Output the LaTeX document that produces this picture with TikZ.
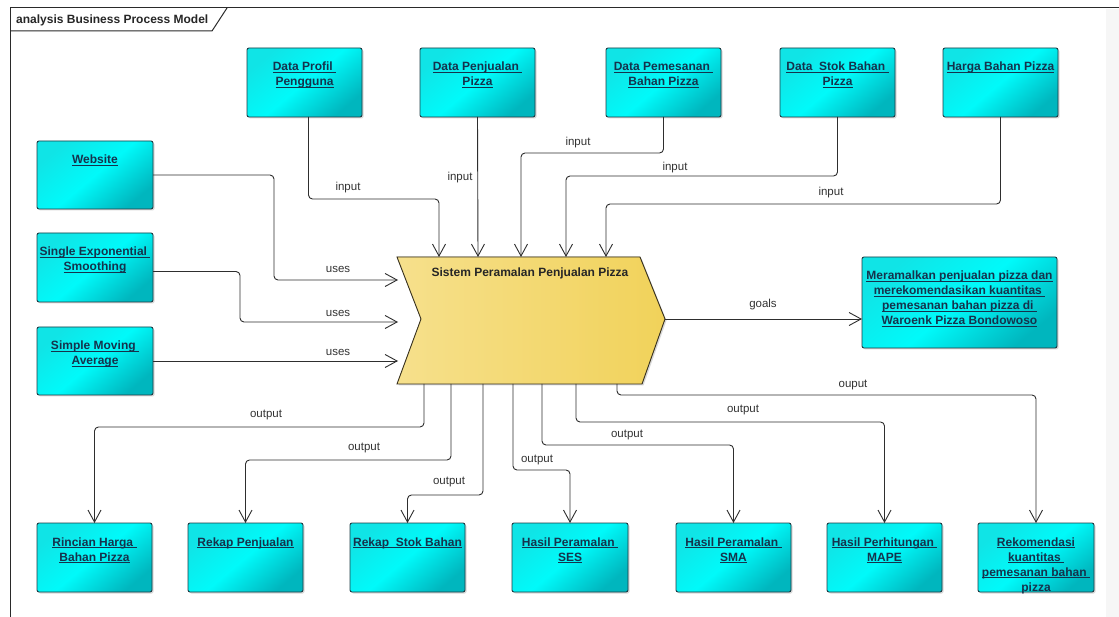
\documentclass[tikz,border=0pt]{standalone}
\usepackage{fontspec}
\setmainfont{Liberation Sans}
\usetikzlibrary{arrows.meta,shadows}

\definecolor{boxtop}{HTML}{10E4E6}
\definecolor{boxmid}{HTML}{00FAFA}
\definecolor{boxbot}{HTML}{00B6BE}
\definecolor{boxline}{HTML}{1E3C44}
\definecolor{boxtext}{HTML}{15324C}
\definecolor{sysleft}{HTML}{F6E08C}
\definecolor{sysright}{HTML}{F1D25A}
\definecolor{sysline}{HTML}{3A3320}
\definecolor{wire}{HTML}{2E2E2E}
\definecolor{lbltext}{HTML}{333333}
\definecolor{frameline}{HTML}{2A2A2A}

% underlined line of text, rule a little below the baseline
\newsavebox{\ulinebox}
\newcommand{\ulin}[1]{\leavevmode\sbox{\ulinebox}{#1}\rlap{\rule[-2.2pt]{\wd\ulinebox}{0.9pt}}\usebox{\ulinebox}}
% text block of an artifact: width, height, lines
\newcommand{\cardtext}[3]{\vbox to #2pt{\hsize=#1pt\relax\vskip 12.5pt
  \centering\fontsize{12}{15}\selectfont\bfseries\color{boxtext}%
  \leavevmode\strut #3\par\vfil}}

\tikzset{
  artifact/.style={draw=boxline, line width=0.9pt, rounded corners=2pt,
    inner sep=0pt, outer sep=0pt, anchor=north west,
    top color=boxtop, bottom color=boxbot, middle color=boxmid, shading angle=40,
    drop shadow={shadow xshift=1.5pt, shadow yshift=-1.5pt, opacity=0.3}},
  process/.style={draw=sysline, line width=0.9pt, left color=sysleft, right color=sysright,
    drop shadow={shadow xshift=1.5pt, shadow yshift=-1.5pt, opacity=0.3}},
  conn/.style={draw=wire, line width=0.9pt, rounded corners=4pt,
    -{Straight Barb[length=12pt,width=13pt]}},
  lbl/.style={text=lbltext, font=\fontsize{11.5}{13}\selectfont, inner sep=1pt},
  frame/.style={draw=frameline, line width=1pt}
}

\begin{document}
\begin{tikzpicture}[x=1pt,y=-1pt]
\useasboundingbox (0,0) rectangle (1119,617);
\fill[white] (0,0) rectangle (1119,617);
\fill[gray!7] (1106,9) rectangle (1119,617);

% diagram frame and its name tab
\draw[frame] (10,617) -- (10,8) -- (1119,8);
\draw[frame] (10,31) -- (212,31) -- (227,8);
\node[anchor=west, inner sep=0pt, text=black!85, font=\fontsize{12}{14}\selectfont\bfseries]
  (title) at (16,20) {analysis Business Process Model};

% input information
\node[artifact] (dp)  at (247,48)  {\cardtext{115}{69}{\ulin{Data Profil\ }\\\ulin{Pengguna}}};
\node[artifact] (dpj) at (420,48)  {\cardtext{115}{69}{\ulin{Data Penjualan\ }\\\ulin{Pizza}}};
\node[artifact] (dpm) at (606,48)  {\cardtext{115}{69}{\ulin{Data Pemesanan\ }\\\ulin{Bahan Pizza}}};
\node[artifact] (dsb) at (780,48)  {\cardtext{115}{69}{\ulin{Data\ \ Stok Bahan\ }\\\ulin{Pizza}}};
\node[artifact] (hbp) at (943,48)  {\cardtext{115}{69}{\ulin{Harga Bahan Pizza}}};

% resources
\node[artifact] (web)  at (37,141) {\cardtext{116}{68}{\ulin{Website}}};
\node[artifact] (sesm) at (37,233) {\cardtext{116}{69}{\ulin{Single Exponential\ }\\\ulin{Smoothing}}};
\node[artifact] (sma)  at (37,327) {\cardtext{116}{68}{\ulin{Simple Moving\ }\\\ulin{Average}}};

% goal
\node[artifact] (goal) at (862,257) {\cardtext{195}{91}{\ulin{Meramalkan penjualan pizza dan}\\
  \ulin{merekomendasikan kuantitas\ }\\\ulin{pemesanan bahan pizza di\ }\\\ulin{Waroenk Pizza Bondowoso}}};

% outputs
\node[artifact] (rhb)   at (37,523)  {\cardtext{115}{69}{\ulin{Rincian Harga\ }\\\ulin{Bahan Pizza}}};
\node[artifact] (rp)    at (188,523) {\cardtext{115}{69}{\ulin{Rekap Penjualan}}};
\node[artifact] (rsb)   at (350,523) {\cardtext{115}{69}{\ulin{Rekap\ \ Stok Bahan}}};
\node[artifact] (hses)  at (512,523) {\cardtext{116}{69}{\ulin{Hasil Peramalan\ }\\\ulin{SES}}};
\node[artifact] (hsma)  at (676,523) {\cardtext{115}{69}{\ulin{Hasil Peramalan\ }\\\ulin{SMA}}};
\node[artifact] (hmape) at (827,523) {\cardtext{115}{69}{\ulin{Hasil Perhitungan\ }\\\ulin{MAPE}}};
\node[artifact] (rkq)   at (978,523) {\cardtext{116}{69}{\ulin{Rekomendasi}\\\ulin{kuantitas\ }\\\ulin{pemesanan bahan\ }\\pizza}};

% business process
\filldraw[process] (397,257) -- (640,257) -- (665,319) -- (642,384) -- (397,384) -- (421,319) -- cycle;
\node[inner sep=0pt, text=black!85, font=\fontsize{12}{14}\selectfont\bfseries]
  (sys) at (530,273) {Sistem Peramalan Penjualan Pizza};

% connection points on the process outline
\coordinate (in1) at (439,257);
\coordinate (in2) at (478,257);
\coordinate (in3) at (521,257);
\coordinate (in4) at (566,257);
\coordinate (in5) at (606,257);
\coordinate (us1) at (398,280);
\coordinate (us2) at (398,322);
\coordinate (us3) at (398,361);
\coordinate (gl)  at (665,319);
\coordinate (o1) at (424,384);
\coordinate (o2) at (451,384);
\coordinate (o3) at (483,384);
\coordinate (o4) at (513,384);
\coordinate (o5) at (542,384);
\coordinate (o6) at (576,384);
\coordinate (o7) at (617,384);

% inputs
\draw[conn] ([xshift=4pt]dp.south) -- ++(0,82) -| (in1) node[lbl] (li1) at (348,188) {input};
\draw[conn] (dpj.south) -- (in2) node[lbl] (li2) at (460,178) {input};
\draw[conn] (dpm.south) -- ++(0,36) -| (in3) node[lbl] (li3) at (578,143) {input};
\draw[conn] (dsb.south) -- ++(0,59) -| (in4) node[lbl] (li4) at (675,168) {input};
\draw[conn] (hbp.south) -- ++(0,87) -| (in5) node[lbl] (li5) at (831,193) {input};

% uses
\draw[conn] (web.east) -- ++(121,0) |- (us1) node[lbl] (lu1) at (338,269) {uses};
\draw[conn] ([yshift=-4pt]sesm.east) -- ++(87,0) |- (us2) node[lbl] (lu2) at (338,313) {uses};
\draw[conn] (sma.east) -- (us3) node[lbl] (lu3) at (338,352) {uses};

% goal
\draw[conn] (gl) -- (gl -| goal.west) node[lbl] (lg) at (763,305) {goals};

% outputs
\draw[conn] (o1) -- ++(0,43)  -| (rhb.north)   node[lbl] (lo1) at (266,415) {output};
\draw[conn] (o2) -- ++(0,76)  -| (rp.north)    node[lbl] (lo2) at (364,448) {output};
\draw[conn] (o3) -- ++(0,111) -| (rsb.north)   node[lbl] (lo3) at (449,482) {output};
\draw[conn] (o4) -- ++(0,86)  -| (hses.north)  node[lbl] (lo4) at (537,460) {output};
\draw[conn] (o5) -- ++(0,61)  -| (hsma.north)  node[lbl] (lo5) at (627,435) {output};
\draw[conn] (o6) -- ++(0,38)  -| (hmape.north) node[lbl] (lo6) at (743,410) {output};
\draw[conn] (o7) -- ++(0,11)  -| (rkq.north)   node[lbl] (lo7) at (853,385) {ouput};
\end{tikzpicture}
\end{document}
